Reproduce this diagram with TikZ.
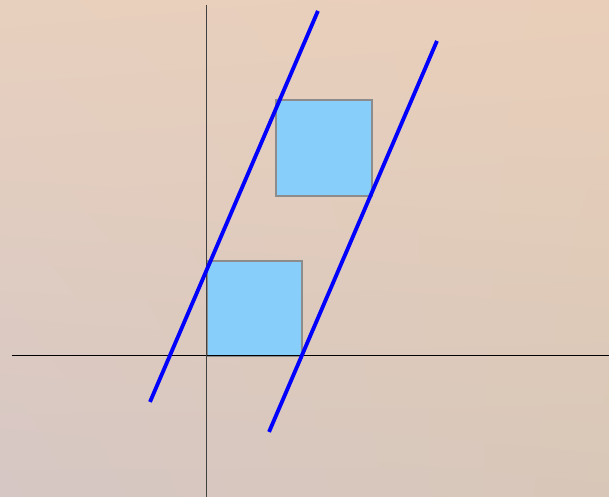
\documentclass[tikz,border=0pt]{standalone}
\usepackage{xcolor}
\definecolor{bgtl}{RGB}{232,208,190}
\definecolor{bgtr}{RGB}{233,207,186}
\definecolor{bgbl}{RGB}{214,199,196}
\definecolor{bgbr}{RGB}{216,199,184}
\definecolor{sqblue}{RGB}{135,206,250}
\definecolor{sqedge}{RGB}{140,140,140}
\usepackage{tikz}
\usetikzlibrary{shadings}

\begin{document}
\begin{tikzpicture}[
  sqbox/.style={fill=sqblue, draw=sqedge, line width=0.35pt},
  axisline/.style={draw=black!75, line width=0.3pt},
  slopeline/.style={draw=blue, line width=1.15pt}
]
\useasboundingbox (-2.179,-1.484) rectangle (4.232,3.747);
\shade[upper left=bgtl, upper right=bgtr, lower left=bgbl, lower right=bgbr]
  (-2.179,-1.484) rectangle (4.232,3.747);

% axes
\coordinate (xl) at (-2.053,0);
\coordinate (xr) at (4.232,0);
\coordinate (yb) at (0,-1.484);
\coordinate (yt) at (0,3.695);

% squares
\draw[sqbox] (0,0) rectangle (1,1);
\draw[sqbox] (0.726,1.684) rectangle (1.737,2.695);

\draw[axisline, draw=black] (xl) -- (xr);
\draw[axisline] (yb) -- (yt);

% parallel lines
\coordinate (a1) at (-0.6,-0.484);
\coordinate (a2) at (1.168,3.632);
\coordinate (b1) at (0.653,-0.8);
\coordinate (b2) at (2.421,3.316);
\draw[slopeline] (a1) -- (a2);
\draw[slopeline] (b1) -- (b2);
\end{tikzpicture}
\end{document}
